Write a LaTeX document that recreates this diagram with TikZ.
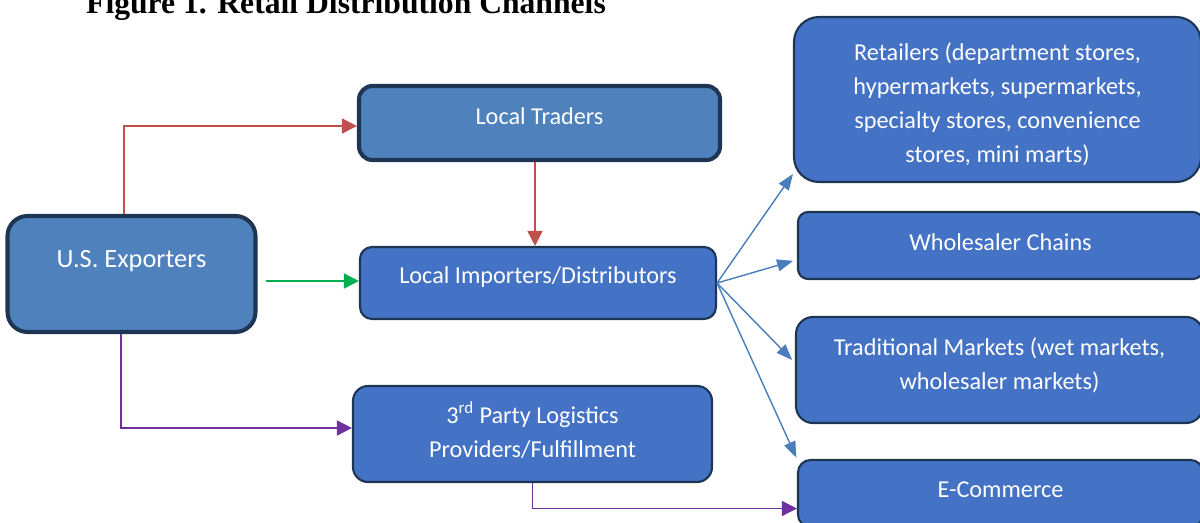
\documentclass[tikz,border=0pt]{standalone}
\usepackage{fontspec}
\setmainfont{Carlito}
\newfontfamily\titlefont{Liberation Serif}
\usepackage{tikz}
\usetikzlibrary{arrows.meta,calc,positioning}

\definecolor{srcfill}{HTML}{4F81BD}
\definecolor{chanfill}{HTML}{4472C4}
\definecolor{navy}{HTML}{1E3553}
\definecolor{linkred}{HTML}{C0504D}
\definecolor{linkgreen}{HTML}{00B050}
\definecolor{linkpurple}{HTML}{7030A0}
\definecolor{linkblue}{HTML}{4A7EBB}

\tikzset{
  srcbox/.style={
    rectangle,
    draw=navy,
    line width=2.3pt,
    fill=srcfill,
    text=white,
    align=center,
    inner sep=2pt,
    font=\fontsize{13.8}{19.3}\selectfont
  },
  chanbox/.style={
    rectangle,
    draw=navy,
    line width=1.2pt,
    fill=chanfill,
    text=white,
    align=center,
    inner sep=2pt,
    text height=0.36cm,
    font=\fontsize{13.8}{19.3}\selectfont
  },
  link/.style={
    line width=0.85pt,
    -{Triangle[length=0.3cm,width=0.3cm]}
  },
  fan/.style={
    line width=0.8pt,
    draw=linkblue,
    -{Triangle[length=0.32cm,width=0.24cm]}
  },
  figtitle/.style={
    font=\titlefont\bfseries\fontsize{18}{22}\selectfont,
    text=black
  }
}

\begin{document}
\begin{tikzpicture}
  \useasboundingbox (0,0) rectangle (24,10.44);
  \clip (0,0) rectangle (24,10.44);
  % \draw[help lines, step=0.5] (0,0) grid (24,10.44);

  \node[figtitle, anchor=base] (title) at (6.92,10.17) {Figure 1. Retail Distribution Channels};

  % ------------------------------------------------------------------
  % Sources and intermediaries
  % ------------------------------------------------------------------
  \node[srcbox, rounded corners=0.4cm, minimum width=4.96cm, minimum height=2.32cm,
        text depth=0.6cm, font=\fontsize{15}{18}\selectfont] (exp) at (2.63,4.96) {U.S. Exporters};
  \node[srcbox, rounded corners=0.27cm, minimum width=7.22cm, minimum height=1.48cm,
        text height=0.33cm, text depth=0.29cm] (traders) at (10.79,7.98) {Local Traders};
  \node[chanbox, rounded corners=0.24cm, minimum width=7.12cm, minimum height=1.44cm,
        text depth=0.36cm] (imp) at (10.76,4.78) {Local Importers/Distributors};
  % multi-line boxes sit on the baseline of their last line
  \node[chanbox, rounded corners=0.3cm, minimum width=7.18cm, minimum height=1.92cm,
        text height=0.92cm, text depth=0cm] (logi) at (10.65,1.76)
    {3\textsuperscript{rd} Party Logistics\\Providers/Fulfillment};

  % ------------------------------------------------------------------
  % Retail channels
  % ------------------------------------------------------------------
  \node[chanbox, rounded corners=0.5cm, minimum width=8.14cm, minimum height=3.30cm,
        text height=2.5cm, text depth=0cm] (retail) at (19.95,8.45)
    {Retailers (department stores,\\hypermarkets, supermarkets,\\specialty stores, convenience\\stores, mini marts)};
  \node[chanbox, rounded corners=0.2cm, minimum width=8.1cm, minimum height=1.34cm,
        text depth=0.18cm] (whole) at (20.01,5.53) {Wholesaler Chains};
  \node[chanbox, rounded corners=0.34cm, minimum width=8.14cm, minimum height=2.12cm,
        text height=0.76cm, text depth=0cm] (trad) at (19.99,3.04)
    {Traditional Markets (wet markets,\\wholesaler markets)};
  \node[chanbox, rounded corners=0.25cm, minimum width=8.1cm, minimum height=1.34cm,
        text depth=0.22cm] (ecom) at (20.01,0.57) {E-Commerce};

  % Links from the exporters
  \coordinate (drop) at ([xshift=-0.09cm]traders.south);
  \coordinate (gstart) at ($(exp.east |- imp.west)+(0.16,0.04)$);
  \draw[link, draw=linkred] ([xshift=-0.15cm]exp.north) |- ([yshift=-0.06cm]traders.west);
  \draw[link, draw=linkred] (drop) -- (drop |- imp.north);
  \draw[link, draw=linkgreen] (gstart) -- (gstart -| imp.west);
  \draw[link, draw=linkpurple] ([xshift=-0.21cm]exp.south) |- ([yshift=0.12cm]logi.west);
  \draw[link, draw=linkpurple] (logi.south) |- ([yshift=-0.3cm]ecom.west);

  % Importers fan out to the retail channels
  \draw[fan] (imp.east) -- (retail.200);
  \draw[fan, shorten >=0.08cm] (imp.east) -- (whole.184);
  \draw[fan, shorten >=0.08cm] (imp.east) -- (trad.178.3);
  \draw[fan, shorten >=0.03cm] (imp.east) -- (ecom.north west);
\end{tikzpicture}
\end{document}
